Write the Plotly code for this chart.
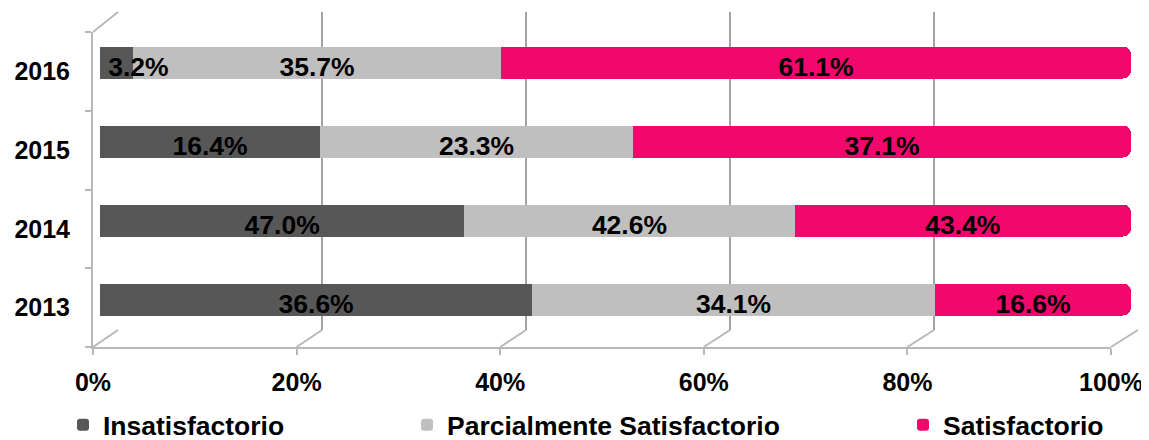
import plotly.graph_objects as go

# ---- data ----
years = ["2013", "2014", "2015", "2016"]
insatisfactorio = [36.6, 47.0, 16.4, 3.2]
parcial = [34.1, 42.6, 23.3, 35.7]
satisfactorio = [16.6, 43.4, 37.1, 61.1]
series_names = ["Insatisfactorio", "Parcialmente Satisfactorio", "Satisfactorio"]
x_ticks = [0, 20, 40, 60, 80, 100]
x_ticktext = ["0%", "20%", "40%", "60%", "80%", "100%"]

# ---- styling ----
OFF = 8                      # the page body has an 8px margin
W, H = 1149 - OFF, 440 - OFF
colors = ["#575757", "#bfbfbf", "#f2086c"]
FONT = "Arial, Liberation Sans, sans-serif"
FS = 25
FS_LAB = 26.5


def fx(px):
    return (px - OFF) / W


def fy(py):
    return 1 - (py - OFF) / H


series = [insatisfactorio, parcial, satisfactorio]
fig = go.Figure()

# back wall (drawn first so it sits behind the bars)
fig.add_trace(go.Scatter(x=[0], y=[0], mode="markers", marker=dict(opacity=0),
                         xaxis="x", yaxis="y", showlegend=False, hoverinfo="skip"))
# front axes helper
fig.add_trace(go.Scatter(x=[0] * 4, y=years, mode="markers", marker=dict(opacity=0),
                         xaxis="x2", yaxis="y2", showlegend=False, hoverinfo="skip"))

legend_ids = ["legend", "legend2", "legend3"]
for name, vals, col, lg in zip(series_names, series, colors, legend_ids):
    fig.add_trace(go.Bar(
        y=years, x=vals, name=name, orientation="h",
        marker=dict(color=col, line=dict(width=0), cornerradius=8),
        xaxis="x3", yaxis="y3", legend=lg, hoverinfo="name+x",
    ))

# data labels at the centre of each (normalised) segment
lab_x, lab_y, lab_t, lab_pos = [], [], [], []
for i, yr in enumerate(years):
    tot = sum(s[i] for s in series)
    cum = 0.0
    for s in series:
        v = s[i]
        mid = (cum + v / 2) / tot * 100
        seg = v / tot * 100
        if seg < 5:
            lab_x.append(cum / tot * 100 + 0.8)
            lab_pos.append("middle right")
        else:
            lab_x.append(mid)
            lab_pos.append("middle center")
        cum += v
        lab_y.append(yr)
        lab_t.append(f"{v:.1f}%")

fig.add_trace(go.Scatter(
    x=lab_x, y=lab_y, text=lab_t, mode="text", textposition=lab_pos,
    textfont=dict(family=FONT, size=FS_LAB, color="#000000", weight="bold"),
    xaxis="x3", yaxis="y4", showlegend=False, hoverinfo="skip",
))

grid_col = "#a3a3a3"
axis_col = "#b8b8b8"

fig.update_layout(
    width=W, height=H,
    margin=dict(l=0, r=0, t=0, b=0, autoexpand=False),
    paper_bgcolor="white", plot_bgcolor="rgba(0,0,0,0)",
    barmode="stack", barnorm="percent", bargap=0.595,
    font=dict(family=FONT, size=FS, color="#000000"),
    # back wall gridlines
    xaxis=dict(domain=[fx(118), fx(1138)], range=[0, 100], anchor="y",
               dtick=20, showgrid=True, gridcolor=grid_col, gridwidth=2,
               zeroline=False, showticklabels=False, showline=False, ticks=""),
    yaxis=dict(domain=[fy(330), fy(12)], range=[0, 1], anchor="x", visible=False,
               showgrid=False, zeroline=False),
    # front axes
    xaxis2=dict(domain=[fx(93), fx(1111)], range=[0, 100], anchor="y2",
                tickvals=x_ticks, ticktext=x_ticktext, showgrid=False, zeroline=False,
                showline=True, linecolor=axis_col, linewidth=2,
                ticks="outside", ticklen=6, tickwidth=2, tickcolor=axis_col,
                ticklabelstandoff=6,
                tickfont=dict(family=FONT, size=FS, color="#000000", weight="bold")),
    yaxis2=dict(domain=[fy(347), fy(32)], type="category", categoryorder="array",
                categoryarray=years, range=[-0.5, 3.5], anchor="x2",
                tickson="boundaries", ticks="outside", ticklen=6, tickwidth=2,
                tickcolor=axis_col, showline=True, linecolor=axis_col, linewidth=2,
                showgrid=False, ticklabelstandoff=16,
                tickfont=dict(family=FONT, size=FS, color="#000000", weight="bold")),
    # bars axes (mid depth)
    xaxis3=dict(domain=[fx(100), fx(1131)], range=[0, 100], visible=False,
                anchor="y3", fixedrange=True),
    yaxis3=dict(domain=[fy(339), fy(23)], type="category", categoryorder="array",
                categoryarray=years, range=[-0.5, 3.5], visible=False, anchor="x3"),
    # labels axis (slightly lower than bar centres)
    yaxis4=dict(domain=[fy(346), fy(30)], type="category", categoryorder="array",
                categoryarray=years, range=[-0.5, 3.5], visible=False, anchor="x3"),
)

# 3D floor / wall connectors
shapes = []
for v in x_ticks:
    x_front = 93 + v / 100 * (1111 - 93)
    x_back = 118 + v / 100 * (1138 - 118)
    shapes.append(dict(type="line", xref="paper", yref="paper", layer="below",
                       x0=fx(x_front), y0=fy(347), x1=fx(x_back), y1=fy(330),
                       line=dict(color=axis_col, width=2)))
shapes.append(dict(type="line", xref="paper", yref="paper", layer="below",
                   x0=fx(93), y0=fy(32), x1=fx(118), y1=fy(12),
                   line=dict(color=axis_col, width=2)))
fig.update_layout(shapes=shapes)

leg_common = dict(orientation="h", xanchor="left", yanchor="middle", y=fy(425),
                  bgcolor="rgba(0,0,0,0)", itemwidth=30,
                  font=dict(family=FONT, size=FS_LAB, color="#000000", weight="bold"))
fig.update_layout(
    legend=dict(x=fx(63), **leg_common),
    legend2=dict(x=fx(407), **leg_common),
    legend3=dict(x=fx(903), **leg_common),
)

fig.write_html("out.html")
